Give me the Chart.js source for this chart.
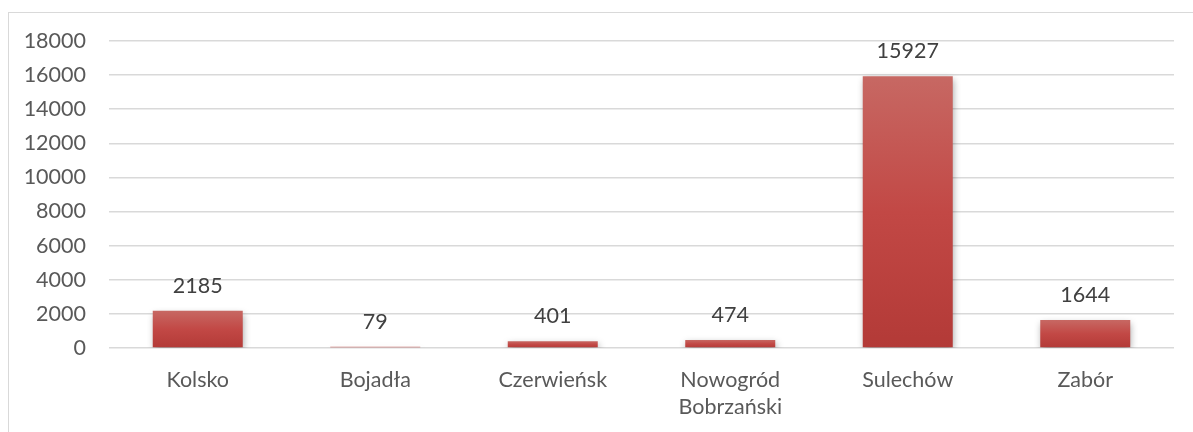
<!DOCTYPE html>
<html>
<head>
<meta charset="utf-8">
<script src="https://cdn.jsdelivr.net/npm/chart.js"></script>
<style>
  *{box-sizing:border-box;margin:0;padding:0}
  html,body{width:1193px;height:432px;overflow:hidden;background:#fff}
  .frame{position:absolute;left:8px;top:12px;width:1200px;height:440px;border:1.5px solid #d9d9d9}
  #chart{position:absolute;left:0;top:0}
</style>
</head>
<body>
<div class="frame"></div>
<canvas id="chart" width="1193" height="432"></canvas>
<script>
const categories = ["Kolsko", "Bojadła", "Czerwieńsk", ["Nowogród", "Bobrzański"], "Sulechów", "Zabór"];
const values = [2185, 79, 401, 474, 15927, 1644];
const yTicks = [0, 2000, 4000, 6000, 8000, 10000, 12000, 14000, 16000, 18000];

const FONT = "Lato, 'Open Sans', sans-serif";
const FSIZE = 21.5;

function barGradient(c) {
  const chart = c.chart;
  if (!chart.chartArea || !c.parsed) return "#bd4a47";
  const y = chart.scales.y;
  const top = y.getPixelForValue(c.parsed.y);
  const base = y.getPixelForValue(0);
  if (Math.abs(base - top) < 1) return "#bd4a47";
  const g = chart.ctx.createLinearGradient(0, top, 0, base);
  g.addColorStop(0, "#c76863");
  g.addColorStop(0.5, "#c24845");
  g.addColorStop(1, "#b33a37");
  return g;
}

// soft drop shadow under bars
const barShadow = {
  id: "barShadow",
  beforeDatasetDraw(chart) {
    const ctx = chart.ctx;
    ctx.save();
    ctx.shadowColor = "rgba(0,0,0,0.35)";
    ctx.shadowBlur = 7;
    ctx.shadowOffsetX = 1;
    ctx.shadowOffsetY = 3;
  },
  afterDatasetDraw(chart) {
    chart.ctx.restore();
  }
};

// value labels above the bars
const valueLabels = {
  id: "valueLabels",
  afterDatasetsDraw(chart) {
    const ctx = chart.ctx;
    const meta = chart.getDatasetMeta(0);
    ctx.save();
    ctx.font = FSIZE + "px " + FONT;
    ctx.fillStyle = "#404040";
    ctx.textAlign = "center";
    ctx.textBaseline = "middle";
    meta.data.forEach((bar, i) => {
      ctx.fillText(String(values[i]), bar.x, bar.y - 25);
    });
    ctx.restore();
  }
};

new Chart(document.getElementById("chart"), {
  type: "bar",
  data: {
    labels: categories,
    datasets: [{
      data: values,
      backgroundColor: barGradient,
      borderWidth: 0,
      barPercentage: 1,
      categoryPercentage: 0.507
    }]
  },
  options: {
    responsive: false,
    animation: false,
    layout: { padding: { top: 41, right: 19, left: 0, bottom: 0 } },
    plugins: { legend: { display: false }, tooltip: { enabled: false } },
    scales: {
      y: {
        min: 0, max: 18000,
        afterBuildTicks: s => { s.ticks = yTicks.map(v => ({ value: v })); },
        afterFit: s => { s.width = 109; },
        border: { display: false },
        grid: { color: "#d9d9d9", lineWidth: 1.5, drawTicks: false },
        ticks: { color: "#595959", padding: 23, font: { family: FONT, size: FSIZE }, callback: v => String(v) }
      },
      x: {
        afterFit: s => { s.height = 84; },
        border: { display: false },
        grid: { display: false, drawTicks: false },
        ticks: { color: "#595959", padding: 18, font: { family: FONT, size: FSIZE, lineHeight: 1.27 }, maxRotation: 0 }
      }
    }
  },
  plugins: [barShadow, valueLabels]
});
</script>
</body>
</html>
